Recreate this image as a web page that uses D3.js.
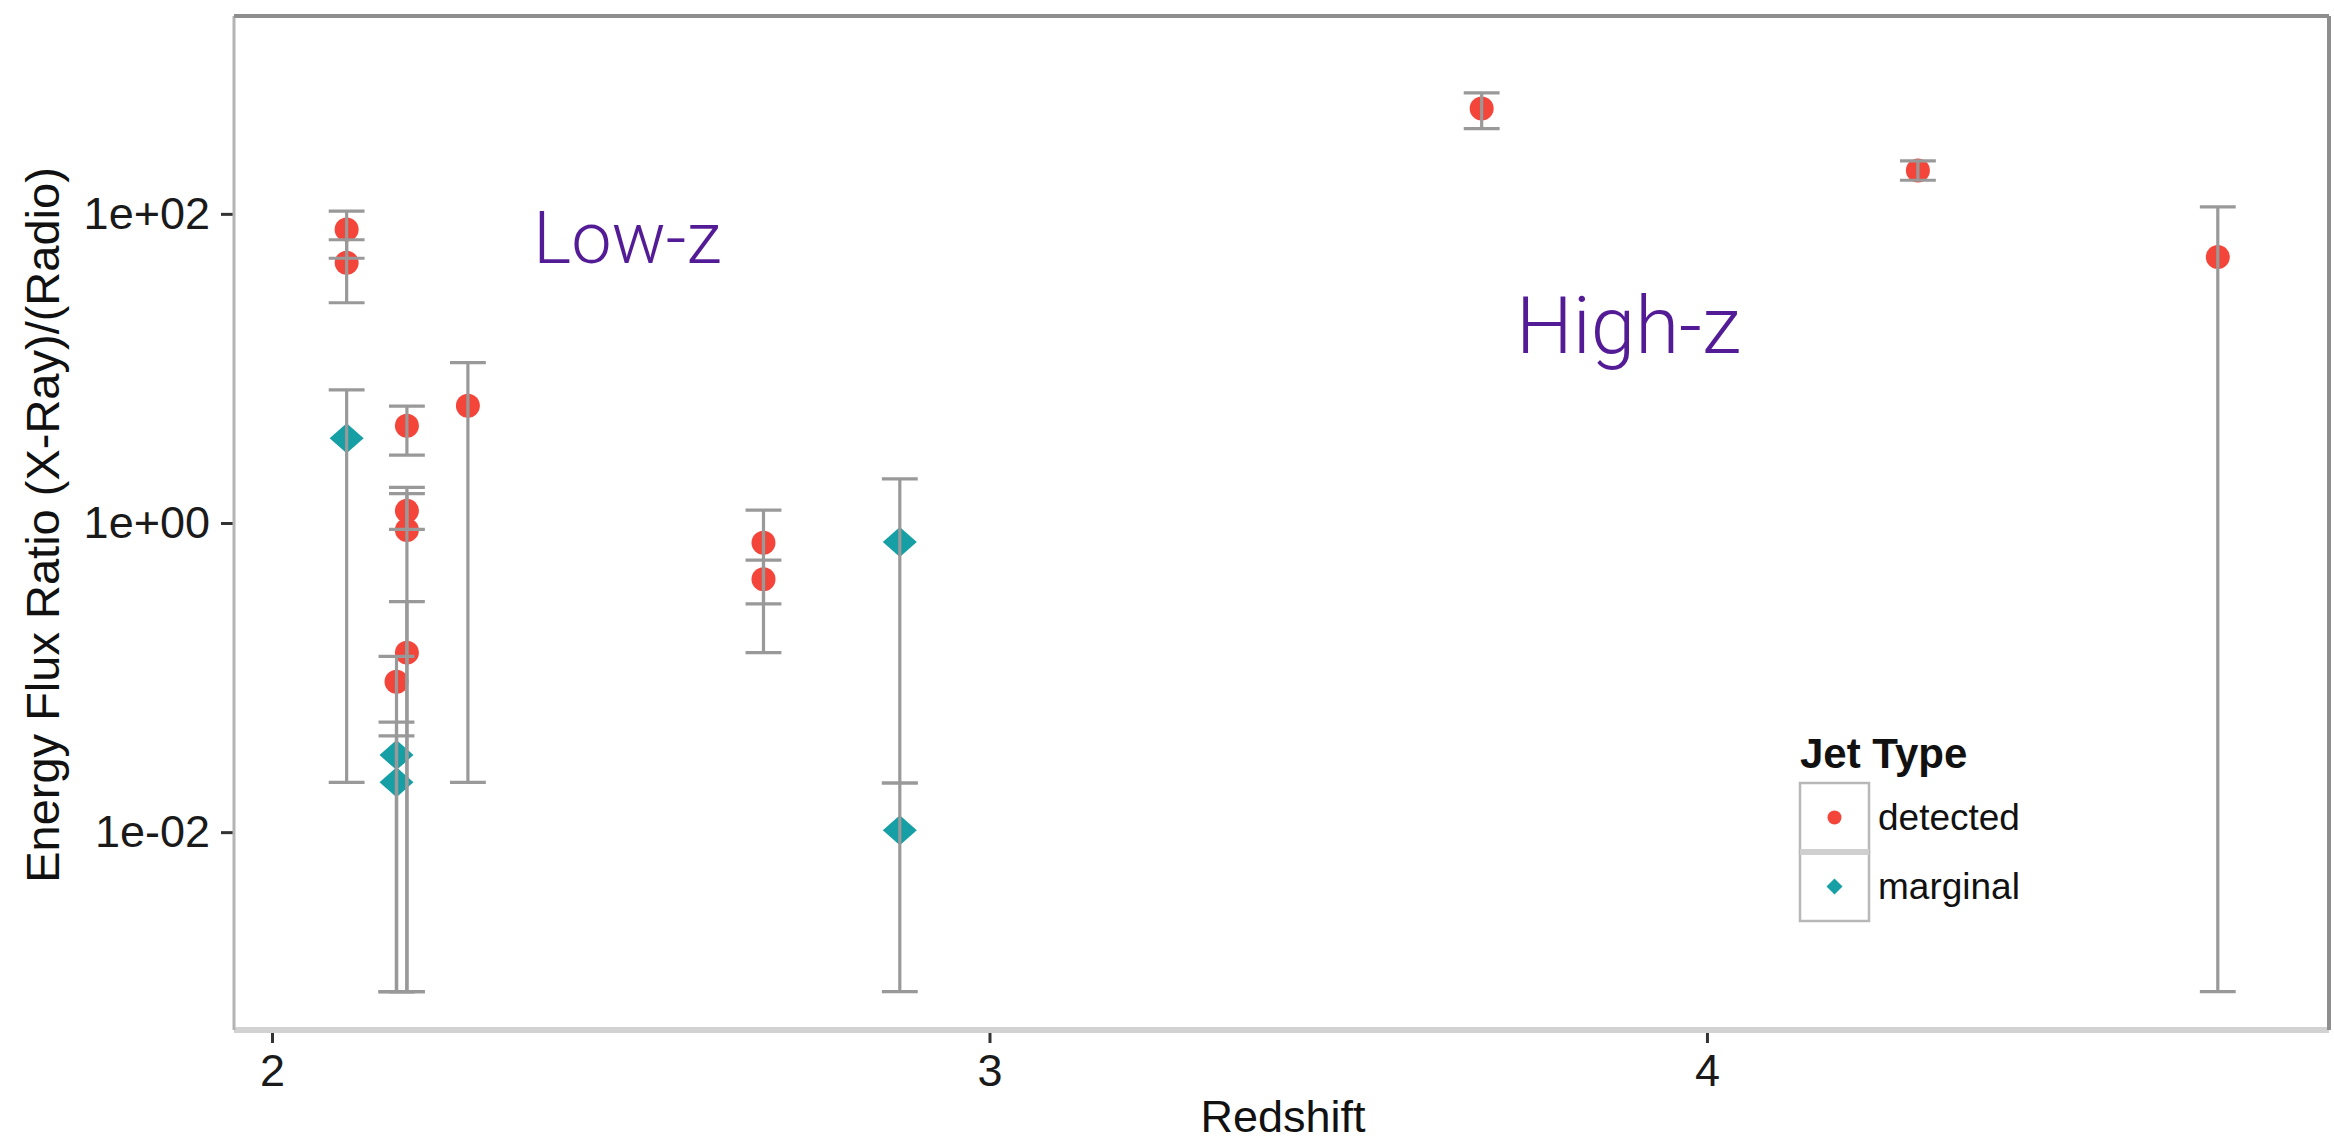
<!DOCTYPE html>
<html>
<head>
<meta charset="utf-8">
<script src="https://cdn.jsdelivr.net/npm/d3@7"></script>
<style>
  body { margin: 0; background: #fff; }
  svg text { font-family: "Liberation Sans", Arial, Helvetica, sans-serif; }
</style>
</head>
<body>
<div id="chart"></div>
<script>
// values
const redshift  = [2.104, 2.104, 2.188, 2.188, 2.188, 2.188, 2.1735, 2.273, 2.685, 2.685, 3.686, 4.294, 4.712,
                   2.104, 2.1735, 2.1735, 2.875, 2.875];
const ratio     = [79.2, 48.3, 4.26, 1.2, 0.9, 0.145, 0.094, 5.73, 0.744, 0.433, 480, 191, 52.6,
                   3.54, 0.0315, 0.021, 0.753, 0.0103];
const ratioLow  = [51.6, 26.6, 2.75, 0.91, 0.00093, 0.00093, 0.00093, 0.021, 0.30, 0.145, 356, 165, 0.00093,
                   0.021, 0.00093, 0.00093, 0.0208, 0.00093];
const ratioHigh = [104, 68, 5.7, 1.7, 1.55, 0.31, 0.137, 10.9, 1.21, 0.575, 607, 220, 111,
                   7.26, 0.0515, 0.042, 1.93, 0.0208];
const jetType   = ['detected', 'detected', 'detected', 'detected', 'detected', 'detected', 'detected', 'detected',
                   'detected', 'detected', 'detected', 'detected', 'detected',
                   'marginal', 'marginal', 'marginal', 'marginal', 'marginal'];

const jetTypes = ['detected', 'marginal'];
const xTicks = [2, 3, 4];
const yTicks = [1e-2, 1, 1e2];
const yTickLabels = ['1e-02', '1e+00', '1e+02'];

const noteLabels = ['Low-z', 'High-z'];
const noteZ = [2.364, 3.734];
const noteRatio = [48, 12.6];

const W = 2334, H = 1144;
const margin = { top: 16, right: 5, bottom: 114, left: 234 };
const width = W - margin.left - margin.right;
const height = H - margin.top - margin.bottom;

const data = redshift.map((z, i) => ({
  z, r: ratio[i], lo: ratioLow[i], hi: ratioHigh[i], type: jetType[i]
}));

const color = d3.scaleOrdinal().domain(jetTypes).range(['#f4453b', '#169fa4']);

const x = d3.scaleLinear().domain([1.947, 4.867]).range([0, width]);
const y = d3.scaleLog().domain([Math.pow(10, -3.28), Math.pow(10, 3.28)]).range([height, 0]);

const svg = d3.select('#chart').append('svg')
  .attr('width', W)
  .attr('height', H);

const g = svg.append('g')
  .attr('transform', `translate(${margin.left}, ${margin.top})`);

// axes
const xAxis = g.append('g')
  .attr('transform', `translate(0, ${height})`)
  .call(d3.axisBottom(x).tickValues(xTicks).tickFormat(d3.format('d')).tickSize(13).tickPadding(11));

const yAxis = g.append('g')
  .call(d3.axisLeft(y).tickValues(yTicks).tickFormat((d, i) => yTickLabels[i]).tickSize(13).tickPadding(11));

[xAxis, yAxis].forEach(a => {
  a.select('.domain').remove();
  a.selectAll('.tick line').attr('stroke', '#333').attr('stroke-width', 3);
  a.selectAll('.tick text').attr('fill', '#1a1a1a').style('font-size', '45px');
});

// points first, error bars drawn on top of them
const diamond = (rx, ry) => `M0,${-ry}L${rx},0L0,${ry}L${-rx},0Z`;

g.selectAll('.pt')
  .data(data)
  .enter()
  .append('path')
  .attr('class', 'pt')
  .attr('transform', d => `translate(${x(d.z)}, ${y(d.r)})`)
  .attr('d', d => d.type === 'detected'
    ? d3.symbol(d3.symbolCircle, Math.PI * 12 * 12)()
    : diamond(17, 15))
  .attr('fill', d => color(d.type));

const capHalf = (x(2.05) - x(2)) / 2;
const bars = g.selectAll('.err')
  .data(data)
  .enter()
  .append('g')
  .attr('class', 'err')
  .attr('stroke', '#999')
  .attr('stroke-width', 3.2);

bars.append('line')
  .attr('x1', d => x(d.z)).attr('x2', d => x(d.z))
  .attr('y1', d => y(d.lo)).attr('y2', d => y(d.hi));
bars.append('line')
  .attr('x1', d => x(d.z) - capHalf).attr('x2', d => x(d.z) + capHalf)
  .attr('y1', d => y(d.hi)).attr('y2', d => y(d.hi));
bars.append('line')
  .attr('x1', d => x(d.z) - capHalf).attr('x2', d => x(d.z) + capHalf)
  .attr('y1', d => y(d.lo)).attr('y2', d => y(d.lo));

// panel frame
g.append('line').attr('x1', 0).attr('x2', width).attr('y1', height).attr('y2', height)
  .attr('stroke', '#d2d2d2').attr('stroke-width', 6);
g.append('line').attr('x1', 0).attr('x2', 0).attr('y1', 0).attr('y2', height)
  .attr('stroke', '#b4b4b4').attr('stroke-width', 3);
g.append('line').attr('x1', 0).attr('x2', width).attr('y1', 0).attr('y2', 0)
  .attr('stroke', '#8e8e8e').attr('stroke-width', 4);
g.append('line').attr('x1', width).attr('x2', width).attr('y1', 0).attr('y2', height)
  .attr('stroke', '#8e8e8e').attr('stroke-width', 4);

// annotations
g.selectAll('.note')
  .data(noteLabels)
  .enter()
  .append('text')
  .attr('class', 'note')
  .attr('x', (d, i) => x(noteZ[i]))
  .attr('y', (d, i) => y(noteRatio[i]))
  .attr('fill', '#531c96')
  .style('font-family', 'Roboto, "Open Sans", sans-serif')
  .style('font-weight', 300)
  .style('font-size', (d, i) => i === 0 ? '72px' : '80px')
  .text(d => d);

// axis titles
svg.append('text')
  .attr('x', 1283)
  .attr('y', 1132)
  .attr('text-anchor', 'middle')
  .attr('fill', '#111')
  .style('font-size', '45px')
  .text('Redshift');

svg.append('text')
  .attr('transform', 'translate(59, 525) rotate(-90)')
  .attr('text-anchor', 'middle')
  .attr('fill', '#111')
  .style('font-size', '47px')
  .text('Energy Flux Ratio (X-Ray)/(Radio)');

// legend
const legend = svg.append('g').attr('transform', 'translate(1800, 783)');
const keySize = 69;

legend.append('text')
  .attr('x', 0)
  .attr('y', -15)
  .attr('fill', '#111')
  .style('font-size', '42px')
  .style('font-weight', 'bold')
  .text('Jet Type');

const key = legend.selectAll('.key')
  .data(jetTypes)
  .enter()
  .append('g')
  .attr('class', 'key')
  .attr('transform', (d, i) => `translate(0, ${i * keySize})`);

key.append('rect')
  .attr('width', keySize)
  .attr('height', keySize)
  .attr('fill', '#fff')
  .attr('stroke', '#b8b8b8')
  .attr('stroke-width', 2.5);

key.append('path')
  .attr('transform', `translate(${keySize / 2}, ${keySize / 2})`)
  .attr('d', d => d === 'detected'
    ? d3.symbol(d3.symbolCircle, Math.PI * 7 * 7)()
    : diamond(8, 8))
  .attr('fill', d => color(d));

key.append('text')
  .attr('x', keySize + 9)
  .attr('y', keySize / 2)
  .attr('dy', '0.35em')
  .attr('fill', '#111')
  .style('font-size', '37px')
  .text(d => d);

legend.append('line')
  .attr('x1', 0).attr('x2', keySize)
  .attr('y1', keySize).attr('y2', keySize)
  .attr('stroke', '#cfcfcf')
  .attr('stroke-width', 6);
</script>
</body>
</html>
